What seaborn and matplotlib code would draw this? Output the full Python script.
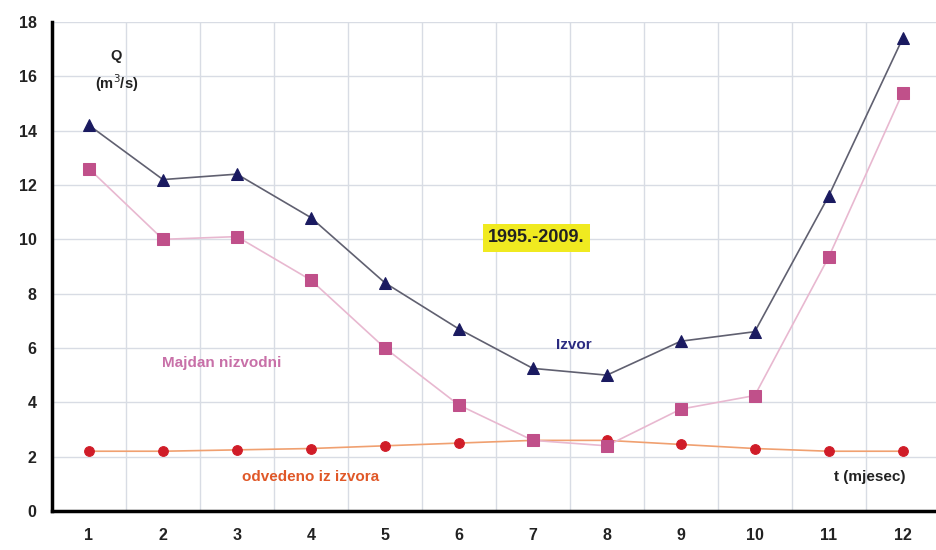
import matplotlib
matplotlib.use("Agg")
import matplotlib.pyplot as plt
import seaborn as sns
import pandas as pd

months = list(range(1, 13))
izvor = [14.2, 12.2, 12.4, 10.8, 8.4, 6.7, 5.25, 5.0, 6.25, 6.6, 11.6, 17.4]
majdan = [12.6, 10.0, 10.1, 8.5, 6.0, 3.9, 2.6, 2.4, 3.75, 4.25, 9.35, 15.4]
odvedeno = [2.2, 2.2, 2.25, 2.3, 2.4, 2.5, 2.6, 2.6, 2.45, 2.3, 2.2, 2.2]
y_ticks = [0, 2, 4, 6, 8, 10, 12, 14, 16, 18]

sns.set_theme(style="white")
plt.rcParams['font.family'] = ['Liberation Sans', 'DejaVu Sans']

fig = plt.figure(figsize=(9.36, 5.5), dpi=100)
ax = fig.add_axes([52/936, 39/550, (936-52)/936, (511-22)/550])

df = pd.DataFrame({"m": months, "izvor": izvor, "majdan": majdan, "odv": odvedeno})

sns.lineplot(data=df, x="m", y="odv", ax=ax, color="#f0a070", lw=1.2,
             marker="o", markersize=7, markerfacecolor="#d01c28",
             markeredgecolor="#d01c28")
sns.lineplot(data=df, x="m", y="majdan", ax=ax, color="#e8b8d0", lw=1.2,
             marker="s", markersize=9, markerfacecolor="#c0508a",
             markeredgecolor="#c0508a")
sns.lineplot(data=df, x="m", y="izvor", ax=ax, color="#606070", lw=1.2,
             marker="^", markersize=8, markerfacecolor="#1a1a60",
             markeredgecolor="#1a1a60")

ax.set_xlim(0.5, 12.45)
ax.set_ylim(0, 18)
ax.set_yticks(y_ticks)
ax.set_xticks(months)
ax.set_xticks([m + 0.5 for m in months[:-1]], minor=True)
ax.tick_params(axis='x', which='major', length=0, pad=12)
ax.tick_params(axis='x', which='minor', length=5, width=2, color='black', direction='out')
ax.tick_params(axis='y', length=5, width=2, color='black', direction='out', pad=6)
for lab in ax.get_xticklabels() + ax.get_yticklabels():
    lab.set_fontweight('bold')
    lab.set_fontsize(11.5)
    lab.set_color('#222222')

ax.grid(False)
for v in y_ticks[1:]:
    ax.axhline(v, color='#d8dce4', lw=1, zorder=0)
for m in months[:-1]:
    ax.axvline(m + 0.5, color='#d8dce4', lw=1, zorder=0)

for s in ['top', 'right']:
    ax.spines[s].set_visible(False)
for s in ['left', 'bottom']:
    ax.spines[s].set_color('black')
    ax.spines[s].set_linewidth(2.5)
ax.set_xlabel("")
ax.set_ylabel("")

ax.text(1.37, 16.75, "Q", ha='center', va='center', fontsize=10.5,
        fontweight='bold', color='#222222')
ax.text(1.37, 15.75, "(m$^{3}$/s)", ha='center', va='center', fontsize=10.5,
        fontweight='bold', color='#222222')
ax.text(7.05, 10.05, "1995.-2009.", ha='center', va='center', fontsize=13,
        fontweight='bold', color='#222222',
        bbox=dict(boxstyle='square,pad=0.3', fc='#f0ea20', ec='none'))
ax.text(7.55, 6.1, "Izvor", ha='center', va='center', fontsize=11,
        fontweight='bold', color='#2a2a80')
ax.text(2.8, 5.45, "Majdan nizvodni", ha='center', va='center', fontsize=11,
        fontweight='bold', color='#c870a8')
ax.text(4.0, 1.25, "odvedeno iz izvora", ha='center', va='center', fontsize=11,
        fontweight='bold', color='#e05828')
ax.text(11.55, 1.25, "t (mjesec)", ha='center', va='center', fontsize=11,
        fontweight='bold', color='#222222')

fig.savefig("out.png", dpi=100)
